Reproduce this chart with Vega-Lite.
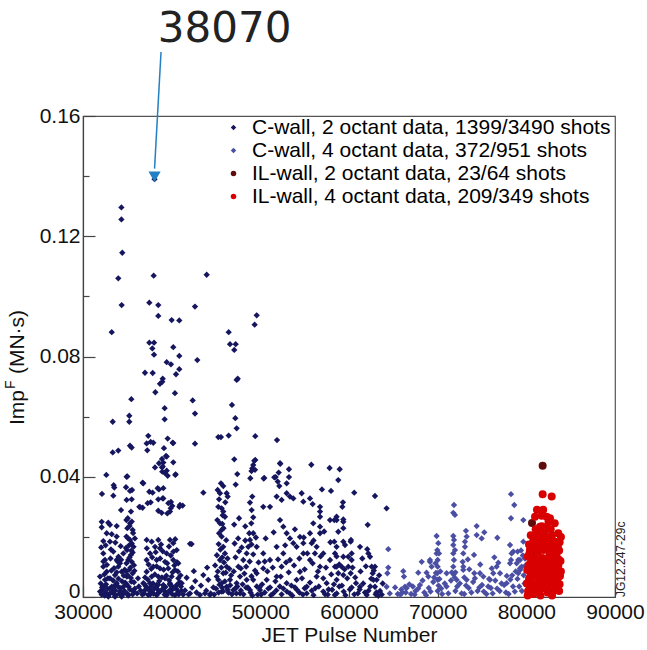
{
  "$schema": "https://vega.github.io/schema/vega-lite/v6.json",
  "width": 532,
  "height": 481,
  "autosize": "none",
  "padding": {"left": 83, "top": 116, "right": 32, "bottom": 53},
  "background": "white",
  "config": {
    "font": "Liberation Sans",
    "view": {"stroke": "#555", "strokeWidth": 1.2},
    "axis": {"grid": false, "domainColor": "#444", "domainWidth": 1.2, "tickColor": "#444", "tickWidth": 1.2, "labelColor": "#111", "titleColor": "#111", "labelFont": "Liberation Sans", "titleFont": "Liberation Sans", "titleFontWeight": "normal"},
    "legend": {"labelFont": "Liberation Sans"}
  },
  "datasets": {
    "cwall2": [
      {"pulse":38070,"imp":0.139},{"pulse":34330,"imp":0.1296},{"pulse":34330,"imp":0.1256},{"pulse":34430,"imp":0.1145},{"pulse":33980,"imp":0.106},{"pulse":37970,"imp":0.1069},{"pulse":43950,"imp":0.1072},
      {"pulse":34360,"imp":0.0971},{"pulse":37480,"imp":0.0979},{"pulse":38490,"imp":0.0971},{"pulse":38490,"imp":0.0935},{"pulse":40000,"imp":0.0921},{"pulse":40860,"imp":0.092},{"pulse":42630,"imp":0.0966},{"pulse":49590,"imp":0.0937},{"pulse":49360,"imp":0.0906},
      {"pulse":33240,"imp":0.0881},{"pulse":46430,"imp":0.0881},{"pulse":37480,"imp":0.0846},{"pulse":38010,"imp":0.0846},{"pulse":37820,"imp":0.0827},{"pulse":38010,"imp":0.0806},{"pulse":40180,"imp":0.0831},{"pulse":40860,"imp":0.0802},{"pulse":39440,"imp":0.0781},{"pulse":39920,"imp":0.0774},{"pulse":40860,"imp":0.0758},{"pulse":42890,"imp":0.0788},{"pulse":36990,"imp":0.0746},{"pulse":37860,"imp":0.0745},{"pulse":40490,"imp":0.0741},
      {"pulse":46580,"imp":0.0841},{"pulse":47220,"imp":0.0841},{"pulse":47060,"imp":0.0822},{"pulse":47450,"imp":0.0726},{"pulse":38990,"imp":0.0726},{"pulse":40370,"imp":0.0678},{"pulse":42370,"imp":0.0654},{"pulse":42630,"imp":0.061},{"pulse":46800,"imp":0.0639},{"pulse":47180,"imp":0.0595},{"pulse":47330,"imp":0.0561},
      {"pulse":45260,"imp":0.0532},{"pulse":45560,"imp":0.0532},{"pulse":46430,"imp":0.0537},{"pulse":49430,"imp":0.0535},{"pulse":51880,"imp":0.0522},{"pulse":42630,"imp":0.051},{"pulse":40180,"imp":0.0512},{"pulse":40180,"imp":0.0448},{"pulse":47060,"imp":0.0458},{"pulse":49430,"imp":0.0456},{"pulse":49200,"imp":0.0439},{"pulse":49000,"imp":0.0419},{"pulse":49400,"imp":0.0423},{"pulse":47400,"imp":0.0409},
      {"pulse":52250,"imp":0.0443},{"pulse":53230,"imp":0.0425},{"pulse":55750,"imp":0.044},{"pulse":57810,"imp":0.0429},{"pulse":58950,"imp":0.0425},{"pulse":52070,"imp":0.0414},{"pulse":51730,"imp":0.0399},{"pulse":53230,"imp":0.0399},{"pulse":50440,"imp":0.0396},{"pulse":48870,"imp":0.0395},{"pulse":40410,"imp":0.0406},
      {"pulse":38940,"imp":0.0716},{"pulse":38680,"imp":0.0709},{"pulse":47330,"imp":0.0722},{"pulse":38160,"imp":0.0681},{"pulse":35450,"imp":0.0658},{"pulse":39210,"imp":0.0628},{"pulse":35220,"imp":0.0603},{"pulse":35220,"imp":0.0583},{"pulse":33350,"imp":0.0583},{"pulse":39210,"imp":0.0591},
      {"pulse":37360,"imp":0.0536},{"pulse":37630,"imp":0.0516},{"pulse":37250,"imp":0.0488},{"pulse":35300,"imp":0.0503},{"pulse":35490,"imp":0.0497},{"pulse":33350,"imp":0.0481},{"pulse":33980,"imp":0.0487},{"pulse":39550,"imp":0.0527},{"pulse":40110,"imp":0.0513},{"pulse":39130,"imp":0.0495},
      {"pulse":38910,"imp":0.0459},{"pulse":39360,"imp":0.0469},{"pulse":38910,"imp":0.0431},{"pulse":39440,"imp":0.042},{"pulse":38120,"imp":0.0431},{"pulse":32630,"imp":0.0406},{"pulse":35000,"imp":0.0401},{"pulse":36720,"imp":0.038},{"pulse":33460,"imp":0.0372},{"pulse":34850,"imp":0.0365},{"pulse":35530,"imp":0.0356},{"pulse":32140,"imp":0.0343},{"pulse":33420,"imp":0.0337},
      {"pulse":37480,"imp":0.035},{"pulse":37850,"imp":0.0347},{"pulse":38570,"imp":0.0358},{"pulse":39060,"imp":0.0362},{"pulse":38980,"imp":0.0328},{"pulse":39920,"imp":0.0316},{"pulse":40070,"imp":0.0303},{"pulse":39810,"imp":0.0284},{"pulse":39510,"imp":0.0278},{"pulse":40860,"imp":0.03},{"pulse":41240,"imp":0.0304},{"pulse":36430,"imp":0.0299},{"pulse":37290,"imp":0.0312},{"pulse":34290,"imp":0.0289},{"pulse":35410,"imp":0.0284},
      {"pulse":43570,"imp":0.0347},{"pulse":42070,"imp":0.0177},{"pulse":42660,"imp":0.0053},{"pulse":41690,"imp":0.0064},
      {"pulse":45560,"imp":0.0378},{"pulse":45820,"imp":0.0369},{"pulse":45190,"imp":0.0356},{"pulse":45450,"imp":0.0345},{"pulse":46200,"imp":0.0345},{"pulse":46320,"imp":0.0334},{"pulse":45260,"imp":0.03},{"pulse":45640,"imp":0.0295},{"pulse":45820,"imp":0.0284},{"pulse":46010,"imp":0.0267},{"pulse":45710,"imp":0.0243},{"pulse":45640,"imp":0.0223},
      {"pulse":47220,"imp":0.0374},{"pulse":49320,"imp":0.0453},{"pulse":49090,"imp":0.0428},{"pulse":51570,"imp":0.0398},{"pulse":51960,"imp":0.0384},{"pulse":52140,"imp":0.0369},{"pulse":52220,"imp":0.0445},{"pulse":52970,"imp":0.0378},
      {"pulse":49090,"imp":0.0334},{"pulse":48830,"imp":0.0314},{"pulse":49020,"imp":0.0289},{"pulse":49200,"imp":0.0265},{"pulse":48980,"imp":0.0245},{"pulse":48750,"imp":0.0212},{"pulse":50380,"imp":0.0394},{"pulse":50330,"imp":0.03},{"pulse":51090,"imp":0.03},{"pulse":51840,"imp":0.0334},{"pulse":52400,"imp":0.0323},{"pulse":52970,"imp":0.0345},{"pulse":53340,"imp":0.0334},{"pulse":53720,"imp":0.0328},
      {"pulse":54660,"imp":0.0345},{"pulse":54850,"imp":0.0317},{"pulse":55600,"imp":0.0328},{"pulse":55900,"imp":0.0309},{"pulse":58790,"imp":0.0389},{"pulse":56950,"imp":0.0358},{"pulse":57970,"imp":0.0353},{"pulse":56730,"imp":0.03},{"pulse":56730,"imp":0.0284},{"pulse":56730,"imp":0.0267},{"pulse":58600,"imp":0.0267},
      {"pulse":52220,"imp":0.0256},{"pulse":52590,"imp":0.0234},{"pulse":52970,"imp":0.0212},{"pulse":53340,"imp":0.0195},{"pulse":53720,"imp":0.0179},{"pulse":54470,"imp":0.02},{"pulse":54850,"imp":0.0179},{"pulse":55600,"imp":0.0212},{"pulse":55790,"imp":0.0179},{"pulse":56160,"imp":0.0145},
      {"pulse":60590,"imp":0.0347},{"pulse":62930,"imp":0.0336},{"pulse":64240,"imp":0.0295},{"pulse":62110,"imp":0.024},{"pulse":59250,"imp":0.03},{"pulse":59320,"imp":0.0315},{"pulse":59360,"imp":0.025},{"pulse":57860,"imp":0.0256},{"pulse":58610,"imp":0.0256},{"pulse":58790,"imp":0.0217},{"pulse":56730,"imp":0.0234},{"pulse":56730,"imp":0.0212},{"pulse":55970,"imp":0.0245},
      {"pulse":60220,"imp":0.019},{"pulse":61240,"imp":0.0167},{"pulse":60300,"imp":0.0145},{"pulse":62060,"imp":0.0159},{"pulse":62370,"imp":0.0134},{"pulse":62930,"imp":0.0101},{"pulse":63120,"imp":0.0057},
      {"pulse":58340,"imp":0.0256},{"pulse":59360,"imp":0.0258},{"pulse":59360,"imp":0.0229},{"pulse":58340,"imp":0.0184},{"pulse":59360,"imp":0.0184},{"pulse":60190,"imp":0.0184},{"pulse":58600,"imp":0.0167},{"pulse":59550,"imp":0.0173},{"pulse":58420,"imp":0.0145},{"pulse":59360,"imp":0.0134},{"pulse":59920,"imp":0.0134},{"pulse":60300,"imp":0.0123},{"pulse":59920,"imp":0.0101},{"pulse":59170,"imp":0.0101},{"pulse":58420,"imp":0.0101},{"pulse":58790,"imp":0.0079},{"pulse":59360,"imp":0.0073},{"pulse":60190,"imp":0.0079},
      {"pulse":62180,"imp":0.0145},{"pulse":62560,"imp":0.0101},{"pulse":62670,"imp":0.0079},{"pulse":62750,"imp":0.0057},{"pulse":62930,"imp":0.0034},{"pulse":61240,"imp":0.0034},{"pulse":60790,"imp":0.0046},{"pulse":63500,"imp":0.002},{"pulse":63800,"imp":0.0045},
      {"pulse":37180,"imp":0.0511},{"pulse":37930,"imp":0.0513},{"pulse":39440,"imp":0.0467},{"pulse":39060,"imp":0.0447},{"pulse":38990,"imp":0.0434},{"pulse":34920,"imp":0.04},{"pulse":38570,"imp":0.0445},{"pulse":38940,"imp":0.0417},{"pulse":39250,"imp":0.0412},{"pulse":39550,"imp":0.0403},{"pulse":40450,"imp":0.0408},{"pulse":36800,"imp":0.0378},
      {"pulse":33530,"imp":0.0364},{"pulse":35300,"imp":0.0353},{"pulse":34920,"imp":0.0323},{"pulse":35490,"imp":0.0325},{"pulse":38420,"imp":0.0362},{"pulse":38490,"imp":0.0325},{"pulse":39060,"imp":0.0328},{"pulse":37630,"imp":0.0315},{"pulse":36350,"imp":0.03},{"pulse":38490,"imp":0.0287},{"pulse":38870,"imp":0.028},{"pulse":39620,"imp":0.0312},{"pulse":39890,"imp":0.0295},{"pulse":40940,"imp":0.0306},{"pulse":42250,"imp":0.0176},{"pulse":36720,"imp":0.0297},
      {"pulse":32110,"imp":0.025},{"pulse":32850,"imp":0.0247},{"pulse":32110,"imp":0.0232},{"pulse":33040,"imp":0.024},{"pulse":33800,"imp":0.0236},{"pulse":32670,"imp":0.0212},{"pulse":33240,"imp":0.0209},{"pulse":33800,"imp":0.0201},{"pulse":33040,"imp":0.0184},{"pulse":32290,"imp":0.0186},
      {"pulse":34890,"imp":0.0256},{"pulse":35300,"imp":0.0245},{"pulse":35000,"imp":0.0229},{"pulse":35600,"imp":0.0223},{"pulse":34900,"imp":0.0201},{"pulse":35300,"imp":0.019},{"pulse":35700,"imp":0.0167},{"pulse":34960,"imp":0.0156},{"pulse":35400,"imp":0.014},{"pulse":35100,"imp":0.0123},{"pulse":35750,"imp":0.0106},{"pulse":35200,"imp":0.009},{"pulse":35600,"imp":0.0079},{"pulse":34950,"imp":0.0068},{"pulse":35450,"imp":0.0051},{"pulse":35150,"imp":0.0034},{"pulse":35700,"imp":0.0018},{"pulse":34980,"imp":0.0012},
      {"pulse":37180,"imp":0.019},{"pulse":37750,"imp":0.0184},{"pulse":38490,"imp":0.019},{"pulse":38120,"imp":0.0167},{"pulse":38680,"imp":0.0162},{"pulse":39810,"imp":0.019},{"pulse":40180,"imp":0.0179},{"pulse":40570,"imp":0.0156},{"pulse":39440,"imp":0.0145},{"pulse":37560,"imp":0.0145},{"pulse":37180,"imp":0.0123},{"pulse":38310,"imp":0.0123},{"pulse":39250,"imp":0.0117},{"pulse":40180,"imp":0.0123},
      {"pulse":40750,"imp":0.0112},{"pulse":37930,"imp":0.0101},{"pulse":38680,"imp":0.0095},{"pulse":39620,"imp":0.0095},{"pulse":40370,"imp":0.009},{"pulse":37180,"imp":0.0084},{"pulse":37750,"imp":0.0068},{"pulse":38490,"imp":0.0068},{"pulse":39250,"imp":0.0062},{"pulse":40000,"imp":0.0068},{"pulse":40750,"imp":0.0062},{"pulse":36800,"imp":0.0046},{"pulse":37560,"imp":0.0046},{"pulse":38310,"imp":0.004},
      {"pulse":39060,"imp":0.004},{"pulse":39810,"imp":0.0046},{"pulse":40570,"imp":0.004},{"pulse":41130,"imp":0.0046},{"pulse":36990,"imp":0.0023},{"pulse":37750,"imp":0.0018},{"pulse":38490,"imp":0.0023},{"pulse":39250,"imp":0.0018},{"pulse":40000,"imp":0.0023},{"pulse":40750,"imp":0.0018},{"pulse":37360,"imp":0.0007},{"pulse":38310,"imp":0.0006},{"pulse":39440,"imp":0.0006},{"pulse":40370,"imp":0.0006},
      {"pulse":32290,"imp":0.0101},{"pulse":32670,"imp":0.0084},{"pulse":31920,"imp":0.0068},{"pulse":32480,"imp":0.0057},{"pulse":33040,"imp":0.0062},{"pulse":33610,"imp":0.0073},{"pulse":33980,"imp":0.0101},{"pulse":34360,"imp":0.0084},{"pulse":33800,"imp":0.0046},{"pulse":33240,"imp":0.0034},{"pulse":32290,"imp":0.0034},{"pulse":31920,"imp":0.0018},{"pulse":32670,"imp":0.0012},{"pulse":33420,"imp":0.0012},{"pulse":34170,"imp":0.0018},{"pulse":34550,"imp":0.0034},{"pulse":32850,"imp":0.0001},{"pulse":33610,"imp":0.0001},{"pulse":34360,"imp":0.0001},
      {"pulse":32290,"imp":0.0145},{"pulse":33420,"imp":0.0151},{"pulse":34000,"imp":0.0134},{"pulse":33800,"imp":0.0123},{"pulse":32480,"imp":0.0123},{"pulse":34170,"imp":0.0112},{"pulse":34550,"imp":0.0145},
      {"pulse":43570,"imp":0.0073},{"pulse":44130,"imp":0.0057},{"pulse":45080,"imp":0.0068},{"pulse":45640,"imp":0.0046},{"pulse":43760,"imp":0.0012},{"pulse":42070,"imp":0.0012},{"pulse":43190,"imp":0.0007},{"pulse":44320,"imp":0.0007},
      {"pulse":45450,"imp":0.0245},{"pulse":45640,"imp":0.0201},{"pulse":45820,"imp":0.0167},{"pulse":46010,"imp":0.0145},{"pulse":45450,"imp":0.0123},{"pulse":46200,"imp":0.0101},{"pulse":45820,"imp":0.0079},{"pulse":45260,"imp":0.0057},{"pulse":46580,"imp":0.0057},{"pulse":46200,"imp":0.0034},{"pulse":45640,"imp":0.0018},{"pulse":46950,"imp":0.0023},
      {"pulse":47330,"imp":0.0046},{"pulse":47710,"imp":0.0068},{"pulse":47520,"imp":0.0101},{"pulse":48080,"imp":0.0123},{"pulse":48460,"imp":0.0145},{"pulse":48640,"imp":0.0167},{"pulse":48830,"imp":0.019},{"pulse":49200,"imp":0.0212},{"pulse":48460,"imp":0.0057},{"pulse":48830,"imp":0.0023},{"pulse":47710,"imp":0.0012},{"pulse":49200,"imp":0.0057},
      {"pulse":49590,"imp":0.0167},{"pulse":50330,"imp":0.0145},{"pulse":51090,"imp":0.0123},{"pulse":51840,"imp":0.0167},{"pulse":52590,"imp":0.0145},{"pulse":53340,"imp":0.0123},{"pulse":54090,"imp":0.0167},{"pulse":54850,"imp":0.0145},{"pulse":55600,"imp":0.0123},{"pulse":56350,"imp":0.0167},{"pulse":57100,"imp":0.0145},{"pulse":57860,"imp":0.0123},{"pulse":58610,"imp":0.0101},
      {"pulse":49590,"imp":0.0079},{"pulse":50720,"imp":0.0057},{"pulse":51840,"imp":0.0068},{"pulse":52970,"imp":0.0046},{"pulse":54090,"imp":0.0057},{"pulse":55230,"imp":0.0034},{"pulse":56350,"imp":0.0068},{"pulse":57480,"imp":0.0046},{"pulse":58610,"imp":0.0057},{"pulse":49960,"imp":0.0023},{"pulse":51460,"imp":0.0012},{"pulse":53340,"imp":0.0012},{"pulse":55230,"imp":0.0012},{"pulse":57100,"imp":0.0018},{"pulse":58610,"imp":0.0012},
      {"pulse":52400,"imp":0.0101},{"pulse":54470,"imp":0.0084},{"pulse":56730,"imp":0.0101},{"pulse":50330,"imp":0.0095},
      {"pulse":32000,"imp":0.0045},{"pulse":32200,"imp":0.0025},{"pulse":32400,"imp":0.0075},{"pulse":32600,"imp":0.0042},{"pulse":32800,"imp":0.0062},{"pulse":33000,"imp":0.0028},{"pulse":33200,"imp":0.0088},{"pulse":33400,"imp":0.0055},{"pulse":33600,"imp":0.0038},{"pulse":33800,"imp":0.0082},{"pulse":34000,"imp":0.0061},{"pulse":34200,"imp":0.0029},{"pulse":34400,"imp":0.0052},{"pulse":34600,"imp":0.0071},
      {"pulse":32100,"imp":0.0008},{"pulse":32500,"imp":0.0015},{"pulse":32900,"imp":0.0009},{"pulse":33300,"imp":0.0017},{"pulse":33700,"imp":0.0006},{"pulse":34100,"imp":0.0011},{"pulse":34500,"imp":0.0009},{"pulse":32300,"imp":0.0118},{"pulse":32700,"imp":0.0107},{"pulse":33100,"imp":0.0128},{"pulse":33500,"imp":0.0096},{"pulse":33900,"imp":0.0118},{"pulse":34300,"imp":0.0124},
      {"pulse":32050,"imp":0.0165},{"pulse":32550,"imp":0.0172},{"pulse":33150,"imp":0.0158},{"pulse":33650,"imp":0.0181},{"pulse":34250,"imp":0.0169},{"pulse":34700,"imp":0.0091},{"pulse":34750,"imp":0.0048},
      {"pulse":35050,"imp":0.0262},{"pulse":35500,"imp":0.0251},{"pulse":35250,"imp":0.0236},{"pulse":35650,"imp":0.0213},{"pulse":35050,"imp":0.0196},{"pulse":35500,"imp":0.0178},{"pulse":35200,"imp":0.0172},{"pulse":34850,"imp":0.0163},{"pulse":35600,"imp":0.0148},{"pulse":35250,"imp":0.0131},{"pulse":34900,"imp":0.0112},{"pulse":35500,"imp":0.0117},{"pulse":35350,"imp":0.0098},
      {"pulse":34850,"imp":0.0085},{"pulse":35800,"imp":0.0087},{"pulse":35050,"imp":0.0072},{"pulse":35400,"imp":0.0063},{"pulse":35750,"imp":0.0049},{"pulse":34900,"imp":0.0043},{"pulse":35300,"imp":0.0025},{"pulse":35600,"imp":0.0009},{"pulse":35100,"imp":0.0005},{"pulse":35850,"imp":0.0028},{"pulse":35450,"imp":0.0154},{"pulse":35850,"imp":0.0195},
      {"pulse":36100,"imp":0.0012},{"pulse":36300,"imp":0.0035},{"pulse":36500,"imp":0.0021},{"pulse":36700,"imp":0.0008},{"pulse":36200,"imp":0.0062},
      {"pulse":36900,"imp":0.0012},{"pulse":37100,"imp":0.0035},{"pulse":37300,"imp":0.0058},{"pulse":37500,"imp":0.0022},{"pulse":37700,"imp":0.0094},{"pulse":37900,"imp":0.0045},{"pulse":38100,"imp":0.0075},{"pulse":38300,"imp":0.0102},{"pulse":38500,"imp":0.0041},{"pulse":38700,"imp":0.0128},{"pulse":38900,"imp":0.0065},{"pulse":39100,"imp":0.0091},
      {"pulse":39300,"imp":0.0033},{"pulse":39500,"imp":0.0112},{"pulse":39700,"imp":0.0056},{"pulse":39900,"imp":0.0138},{"pulse":40100,"imp":0.0082},{"pulse":40300,"imp":0.0105},{"pulse":40500,"imp":0.0028},{"pulse":40700,"imp":0.0085},{"pulse":40900,"imp":0.0049},{"pulse":41100,"imp":0.0021},{"pulse":41300,"imp":0.0008},
      {"pulse":37000,"imp":0.0065},{"pulse":37400,"imp":0.0108},{"pulse":37800,"imp":0.0132},{"pulse":38200,"imp":0.0149},{"pulse":38600,"imp":0.0053},{"pulse":39000,"imp":0.0152},{"pulse":39400,"imp":0.0071},{"pulse":39800,"imp":0.0041},{"pulse":40200,"imp":0.0151},{"pulse":40600,"imp":0.0116},{"pulse":41000,"imp":0.0072},
      {"pulse":37200,"imp":0.0162},{"pulse":38800,"imp":0.0175},{"pulse":39700,"imp":0.0168},{"pulse":40400,"imp":0.0192},{"pulse":37600,"imp":0.0009},{"pulse":38400,"imp":0.0012},{"pulse":39200,"imp":0.0008},{"pulse":40000,"imp":0.0011},{"pulse":40800,"imp":0.0009},{"pulse":38050,"imp":0.0028},{"pulse":38950,"imp":0.0026},{"pulse":39850,"imp":0.0024},
      {"pulse":41500,"imp":0.0022},{"pulse":41900,"imp":0.0009},{"pulse":42300,"imp":0.0031},{"pulse":42800,"imp":0.0015},{"pulse":43300,"imp":0.0038},{"pulse":43900,"imp":0.0021},{"pulse":44400,"imp":0.0012},{"pulse":44700,"imp":0.0032},{"pulse":42500,"imp":0.0086},{"pulse":44000,"imp":0.0098},
      {"pulse":44900,"imp":0.0105},{"pulse":45100,"imp":0.0139},{"pulse":45300,"imp":0.0176},{"pulse":45500,"imp":0.0158},{"pulse":45700,"imp":0.0132},{"pulse":45900,"imp":0.0115},{"pulse":46100,"imp":0.0081},{"pulse":46300,"imp":0.0128},{"pulse":46500,"imp":0.0094},{"pulse":46700,"imp":0.0072},{"pulse":45000,"imp":0.0028},{"pulse":45200,"imp":0.0085},
      {"pulse":45400,"imp":0.0041},{"pulse":45600,"imp":0.0098},{"pulse":45800,"imp":0.0019},{"pulse":46000,"imp":0.0052},{"pulse":46400,"imp":0.0015},{"pulse":46600,"imp":0.0039},{"pulse":45350,"imp":0.0212},{"pulse":45850,"imp":0.0229},{"pulse":46150,"imp":0.0189},{"pulse":45150,"imp":0.0256},{"pulse":45750,"imp":0.0272},{"pulse":46050,"imp":0.0315},{"pulse":45350,"imp":0.0325},
      {"pulse":47000,"imp":0.0085},{"pulse":47200,"imp":0.0132},{"pulse":47400,"imp":0.0035},{"pulse":47600,"imp":0.0152},{"pulse":47800,"imp":0.0095},{"pulse":48000,"imp":0.0042},{"pulse":48200,"imp":0.0078},{"pulse":48400,"imp":0.0101},{"pulse":48600,"imp":0.0032},{"pulse":48800,"imp":0.0118},{"pulse":49000,"imp":0.0069},{"pulse":49200,"imp":0.0142},
      {"pulse":49400,"imp":0.0088},{"pulse":49600,"imp":0.0035},{"pulse":49800,"imp":0.0115},{"pulse":47100,"imp":0.0178},{"pulse":47500,"imp":0.0195},{"pulse":47900,"imp":0.0165},{"pulse":48300,"imp":0.0188},{"pulse":49000,"imp":0.0175},{"pulse":49500,"imp":0.0198},{"pulse":47300,"imp":0.0012},{"pulse":48100,"imp":0.0009},{"pulse":48900,"imp":0.0015},
      {"pulse":49700,"imp":0.0008},{"pulse":47050,"imp":0.0241},{"pulse":47600,"imp":0.0262},{"pulse":48300,"imp":0.0235},
      {"pulse":50200,"imp":0.0042},{"pulse":50500,"imp":0.0118},{"pulse":50800,"imp":0.0085},{"pulse":51100,"imp":0.0032},{"pulse":51400,"imp":0.0098},{"pulse":51700,"imp":0.0052},{"pulse":52000,"imp":0.0125},{"pulse":52300,"imp":0.0068},{"pulse":52600,"imp":0.0028},{"pulse":52900,"imp":0.0115},{"pulse":53200,"imp":0.0082},{"pulse":53500,"imp":0.0038},
      {"pulse":53800,"imp":0.0105},{"pulse":54100,"imp":0.0025},{"pulse":54400,"imp":0.0128},{"pulse":54700,"imp":0.0062},{"pulse":55000,"imp":0.0092},{"pulse":55300,"imp":0.0145},{"pulse":55600,"imp":0.0048},{"pulse":55900,"imp":0.0112},{"pulse":56200,"imp":0.0029},{"pulse":56500,"imp":0.0085},{"pulse":56800,"imp":0.0135},{"pulse":57100,"imp":0.0062},
      {"pulse":57400,"imp":0.0098},{"pulse":57700,"imp":0.0025},{"pulse":58000,"imp":0.0075},{"pulse":58300,"imp":0.0042},{"pulse":58600,"imp":0.0135},{"pulse":58900,"imp":0.0108},{"pulse":59200,"imp":0.0038},{"pulse":59500,"imp":0.0092},{"pulse":59800,"imp":0.0062},{"pulse":60100,"imp":0.0025},{"pulse":60400,"imp":0.0098},{"pulse":60700,"imp":0.0065},
      {"pulse":61000,"imp":0.0012},{"pulse":61300,"imp":0.0085},{"pulse":61600,"imp":0.0045},{"pulse":61900,"imp":0.0102},{"pulse":62200,"imp":0.0021},{"pulse":62500,"imp":0.0061},{"pulse":62800,"imp":0.0088},{"pulse":63100,"imp":0.0015},{"pulse":63400,"imp":0.0072},{"pulse":63700,"imp":0.0008},
      {"pulse":50600,"imp":0.0195},{"pulse":51500,"imp":0.0215},{"pulse":52800,"imp":0.0172},{"pulse":53900,"imp":0.0225},{"pulse":54900,"imp":0.0198},{"pulse":56000,"imp":0.0188},{"pulse":57200,"imp":0.0218},{"pulse":57900,"imp":0.0182},{"pulse":61500,"imp":0.0128},
      {"pulse":50100,"imp":0.0008},{"pulse":51200,"imp":0.0006},{"pulse":52400,"imp":0.0009},{"pulse":53600,"imp":0.0005},{"pulse":54800,"imp":0.0008},{"pulse":56000,"imp":0.0006},{"pulse":57300,"imp":0.0009},{"pulse":58400,"imp":0.0007},{"pulse":59600,"imp":0.0006},{"pulse":60600,"imp":0.0009},{"pulse":62000,"imp":0.0007},{"pulse":63300,"imp":0.0004},
      {"pulse":32150,"imp":0.0032},{"pulse":32450,"imp":0.0005},{"pulse":32750,"imp":0.0028},{"pulse":33050,"imp":0.0011},{"pulse":33350,"imp":0.0031},{"pulse":33650,"imp":0.0022},{"pulse":33950,"imp":0.0035},{"pulse":34250,"imp":0.0008},{"pulse":34650,"imp":0.0021},{"pulse":36950,"imp":0.0042},{"pulse":37250,"imp":0.0028},{"pulse":37650,"imp":0.0035},
      {"pulse":37950,"imp":0.0011},{"pulse":38250,"imp":0.0032},{"pulse":38650,"imp":0.0017},{"pulse":39150,"imp":0.0035},{"pulse":39550,"imp":0.0015},{"pulse":39950,"imp":0.0038},{"pulse":40250,"imp":0.0029},{"pulse":40650,"imp":0.0012},{"pulse":41050,"imp":0.0035},{"pulse":44800,"imp":0.0008},{"pulse":45300,"imp":0.0015},{"pulse":45700,"imp":0.0031},
      {"pulse":46300,"imp":0.0025},{"pulse":46800,"imp":0.0009},{"pulse":47200,"imp":0.0029},{"pulse":47800,"imp":0.0022},{"pulse":48400,"imp":0.0031},{"pulse":49100,"imp":0.0005},{"pulse":49900,"imp":0.0032},{"pulse":50500,"imp":0.0015},{"pulse":50900,"imp":0.0028},{"pulse":51800,"imp":0.0022},{"pulse":52200,"imp":0.0035},{"pulse":53000,"imp":0.0018},
      {"pulse":53900,"imp":0.0032},{"pulse":54400,"imp":0.0015},{"pulse":55000,"imp":0.0029},{"pulse":55800,"imp":0.0021},{"pulse":56600,"imp":0.0035},{"pulse":57600,"imp":0.0008},{"pulse":58100,"imp":0.0024},{"pulse":58900,"imp":0.0035},{"pulse":59400,"imp":0.0018},{"pulse":60300,"imp":0.0032},{"pulse":61200,"imp":0.0025},{"pulse":61800,"imp":0.0015},
      {"pulse":62400,"imp":0.0035},{"pulse":63000,"imp":0.0009}
    ],
    "cwall4": [
      {"pulse":64430,"imp":0.0159},{"pulse":64430,"imp":0.0098},{"pulse":64330,"imp":0.0079},{"pulse":64240,"imp":0.0034},{"pulse":66120,"imp":0.0086},{"pulse":66200,"imp":0.0068},{"pulse":66310,"imp":0.0034},
      {"pulse":68200,"imp":0.0117},{"pulse":67810,"imp":0.0081},{"pulse":68750,"imp":0.0081},{"pulse":69130,"imp":0.0117},{"pulse":68950,"imp":0.0068},
      {"pulse":69880,"imp":0.0203},{"pulse":70070,"imp":0.0179},{"pulse":69960,"imp":0.0156},{"pulse":69880,"imp":0.0145},{"pulse":69130,"imp":0.0123},{"pulse":69320,"imp":0.0101},{"pulse":70000,"imp":0.0123},{"pulse":70000,"imp":0.0101},{"pulse":69950,"imp":0.0079},{"pulse":70000,"imp":0.0057},
      {"pulse":71840,"imp":0.0306},{"pulse":71760,"imp":0.028},{"pulse":71950,"imp":0.0273},{"pulse":71760,"imp":0.0203},{"pulse":71840,"imp":0.019},{"pulse":71760,"imp":0.0173},{"pulse":71950,"imp":0.0156},{"pulse":71760,"imp":0.0145},{"pulse":71840,"imp":0.0123},{"pulse":71760,"imp":0.0101},
      {"pulse":72890,"imp":0.0145},{"pulse":72820,"imp":0.0117},{"pulse":72890,"imp":0.0101},{"pulse":73190,"imp":0.022},{"pulse":73270,"imp":0.0201},{"pulse":73080,"imp":0.0184},{"pulse":73080,"imp":0.0167},{"pulse":72890,"imp":0.009},
      {"pulse":74400,"imp":0.0236},{"pulse":74400,"imp":0.0206},{"pulse":74960,"imp":0.0195},{"pulse":75260,"imp":0.0215},{"pulse":74100,"imp":0.014},{"pulse":73570,"imp":0.0092},{"pulse":74130,"imp":0.0079},
      {"pulse":76730,"imp":0.0197},{"pulse":76390,"imp":0.0132},{"pulse":76650,"imp":0.0101},
      {"pulse":78270,"imp":0.0342},{"pulse":78640,"imp":0.0306},{"pulse":78270,"imp":0.0262},{"pulse":79660,"imp":0.0256},{"pulse":79660,"imp":0.0184},{"pulse":78160,"imp":0.0173},{"pulse":78530,"imp":0.0151},{"pulse":79020,"imp":0.0151},{"pulse":79090,"imp":0.0123},{"pulse":78160,"imp":0.0112},{"pulse":78340,"imp":0.0145},{"pulse":78910,"imp":0.0112},{"pulse":79280,"imp":0.0095},{"pulse":79280,"imp":0.0123},{"pulse":79470,"imp":0.0101},{"pulse":79090,"imp":0.0079},{"pulse":78270,"imp":0.0123},
      {"pulse":76840,"imp":0.0114},{"pulse":76270,"imp":0.0079},{"pulse":74770,"imp":0.0079},{"pulse":75150,"imp":0.0068},{"pulse":71010,"imp":0.0079},{"pulse":72140,"imp":0.0057},{"pulse":73270,"imp":0.0057},{"pulse":75900,"imp":0.0057},{"pulse":77030,"imp":0.0079},{"pulse":77780,"imp":0.0046},
      {"pulse":65500,"imp":0.001},{"pulse":66000,"imp":0.0015},{"pulse":66500,"imp":0.003},{"pulse":67000,"imp":0.001},{"pulse":67500,"imp":0.002},{"pulse":68000,"imp":0.004},{"pulse":68500,"imp":0.0015},{"pulse":69000,"imp":0.003},{"pulse":69500,"imp":0.005},{"pulse":70000,"imp":0.002},
      {"pulse":70200,"imp":0.006},{"pulse":70500,"imp":0.001},{"pulse":71000,"imp":0.0035},{"pulse":71500,"imp":0.0055},{"pulse":72000,"imp":0.002},{"pulse":72500,"imp":0.0045},{"pulse":73000,"imp":0.001},{"pulse":73500,"imp":0.003},{"pulse":74000,"imp":0.005},{"pulse":74500,"imp":0.002},
      {"pulse":75000,"imp":0.004},{"pulse":75500,"imp":0.001},{"pulse":76000,"imp":0.003},{"pulse":76500,"imp":0.0055},{"pulse":77000,"imp":0.002},{"pulse":77500,"imp":0.004},{"pulse":78000,"imp":0.001},{"pulse":78500,"imp":0.0035},{"pulse":79000,"imp":0.006},{"pulse":79500,"imp":0.002},
      {"pulse":79800,"imp":0.0045},{"pulse":69800,"imp":0.008},{"pulse":70300,"imp":0.0085},{"pulse":71800,"imp":0.0075},{"pulse":73000,"imp":0.0065},{"pulse":75800,"imp":0.006},{"pulse":77800,"imp":0.007},{"pulse":79300,"imp":0.009},{"pulse":65900,"imp":0.0025},{"pulse":67200,"imp":0.0035},
      {"pulse":64600,"imp":0.0012},{"pulse":65200,"imp":0.0032},{"pulse":65800,"imp":0.0008},{"pulse":66400,"imp":0.0015},{"pulse":66800,"imp":0.0042},{"pulse":67400,"imp":0.0008},{"pulse":67800,"imp":0.0028},{"pulse":68300,"imp":0.0055},{"pulse":68700,"imp":0.0006},{"pulse":69200,"imp":0.0018},{"pulse":69600,"imp":0.0065},{"pulse":70100,"imp":0.0038},
      {"pulse":70400,"imp":0.0028},{"pulse":70800,"imp":0.0045},{"pulse":71200,"imp":0.0012},{"pulse":71600,"imp":0.0082},{"pulse":72200,"imp":0.0035},{"pulse":72700,"imp":0.0012},{"pulse":73200,"imp":0.0038},{"pulse":73800,"imp":0.0015},{"pulse":74200,"imp":0.0062},{"pulse":74700,"imp":0.0032},{"pulse":75200,"imp":0.0018},{"pulse":75700,"imp":0.0035},
      {"pulse":76200,"imp":0.0012},{"pulse":76700,"imp":0.0028},{"pulse":77200,"imp":0.0045},{"pulse":77700,"imp":0.0015},{"pulse":78200,"imp":0.0058},{"pulse":78700,"imp":0.0018},{"pulse":79200,"imp":0.0035},{"pulse":79700,"imp":0.0072},{"pulse":79900,"imp":0.0105},{"pulse":79600,"imp":0.0138},{"pulse":79400,"imp":0.0155},{"pulse":79850,"imp":0.0128},
      {"pulse":78800,"imp":0.0085},{"pulse":78400,"imp":0.0072},{"pulse":72000,"imp":0.0082},{"pulse":71900,"imp":0.0065},{"pulse":70150,"imp":0.0145},{"pulse":69750,"imp":0.0112},{"pulse":73400,"imp":0.0125},{"pulse":74800,"imp":0.0108},{"pulse":76100,"imp":0.0095}
    ],
    "ilwall2": [
      {"pulse":81840,"imp":0.0437},{"pulse":80640,"imp":0.0246},{"pulse":80500,"imp":0.008},{"pulse":81500,"imp":0.004},{"pulse":82500,"imp":0.012},{"pulse":83000,"imp":0.002},{"pulse":81000,"imp":0.015},{"pulse":82000,"imp":0.006}
    ],
    "ilwall4": [
      {"pulse":81840,"imp":0.0342},{"pulse":82860,"imp":0.0334},{"pulse":80980,"imp":0.0267},{"pulse":81730,"imp":0.027},{"pulse":82290,"imp":0.0267},{"pulse":82670,"imp":0.0262},
      {"pulse":81540,"imp":0.0234},{"pulse":81920,"imp":0.0217},{"pulse":81170,"imp":0.0212},{"pulse":81540,"imp":0.019},{"pulse":80790,"imp":0.019},{"pulse":83600,"imp":0.0212},{"pulse":83230,"imp":0.0184},{"pulse":82290,"imp":0.02},
      {"pulse":82670,"imp":0.0167},{"pulse":81920,"imp":0.0156},{"pulse":83040,"imp":0.0151},{"pulse":81170,"imp":0.0156},{"pulse":80410,"imp":0.0156},
      {"pulse":80200,"imp":0.002},{"pulse":80300,"imp":0.006},{"pulse":80400,"imp":0.011},{"pulse":80500,"imp":0.004},{"pulse":80600,"imp":0.009},{"pulse":80700,"imp":0.013},{"pulse":80800,"imp":0.001},{"pulse":80900,"imp":0.007},{"pulse":81000,"imp":0.012},{"pulse":81100,"imp":0.003},
      {"pulse":81200,"imp":0.0085},{"pulse":81300,"imp":0.015},{"pulse":81400,"imp":0.005},{"pulse":81500,"imp":0.01},{"pulse":81600,"imp":0.0005},{"pulse":81700,"imp":0.0065},{"pulse":81800,"imp":0.013},{"pulse":81900,"imp":0.003},{"pulse":82000,"imp":0.009},{"pulse":82100,"imp":0.016},
      {"pulse":82200,"imp":0.005},{"pulse":82300,"imp":0.011},{"pulse":82400,"imp":0.0015},{"pulse":82500,"imp":0.0075},{"pulse":82600,"imp":0.014},{"pulse":82700,"imp":0.004},{"pulse":82800,"imp":0.01},{"pulse":82900,"imp":0.0005},{"pulse":83000,"imp":0.006},{"pulse":83100,"imp":0.012},
      {"pulse":83200,"imp":0.003},{"pulse":83300,"imp":0.0085},{"pulse":83400,"imp":0.014},{"pulse":83500,"imp":0.005},{"pulse":83600,"imp":0.0105},{"pulse":83700,"imp":0.002},{"pulse":83800,"imp":0.007},{"pulse":83850,"imp":0.012},
      {"pulse":80350,"imp":0.0145},{"pulse":80950,"imp":0.0165},{"pulse":81650,"imp":0.018},{"pulse":82250,"imp":0.0175},{"pulse":82950,"imp":0.0165},{"pulse":83550,"imp":0.017},{"pulse":81350,"imp":0.0195},{"pulse":82050,"imp":0.021},{"pulse":82750,"imp":0.0225},{"pulse":81050,"imp":0.0225},
      {"pulse":83200,"imp":0.0245},{"pulse":81200,"imp":0.029},{"pulse":81900,"imp":0.029},{"pulse":82500,"imp":0.025},{"pulse":80500,"imp":0.0205},{"pulse":83900,"imp":0.02},{"pulse":83700,"imp":0.0155},{"pulse":81750,"imp":0.0235},{"pulse":80100,"imp":0.009},{"pulse":80150,"imp":0.0135},
      {"pulse":80050,"imp":0.0045},{"pulse":80150,"imp":0.0005},{"pulse":80250,"imp":0.0105},{"pulse":80450,"imp":0.0068},{"pulse":80550,"imp":0.0125},{"pulse":80650,"imp":0.0025},{"pulse":80750,"imp":0.0085},{"pulse":80850,"imp":0.0105},{"pulse":80950,"imp":0.0045},{"pulse":81050,"imp":0.0072},{"pulse":81150,"imp":0.0108},{"pulse":81250,"imp":0.0018},
      {"pulse":81350,"imp":0.0125},{"pulse":81450,"imp":0.0082},{"pulse":81550,"imp":0.0058},{"pulse":81650,"imp":0.0112},{"pulse":81750,"imp":0.0028},{"pulse":81850,"imp":0.0088},{"pulse":81950,"imp":0.0115},{"pulse":82050,"imp":0.0042},{"pulse":82150,"imp":0.0125},{"pulse":82250,"imp":0.0078},{"pulse":82350,"imp":0.0025},{"pulse":82450,"imp":0.0105},
      {"pulse":82550,"imp":0.0052},{"pulse":82650,"imp":0.0088},{"pulse":82750,"imp":0.0122},{"pulse":82850,"imp":0.0035},{"pulse":82950,"imp":0.0098},{"pulse":83050,"imp":0.0078},{"pulse":83150,"imp":0.0045},{"pulse":83250,"imp":0.0118},{"pulse":83350,"imp":0.0025},{"pulse":83450,"imp":0.0092},{"pulse":83550,"imp":0.0065},{"pulse":83650,"imp":0.0125},
      {"pulse":83750,"imp":0.0042},{"pulse":83900,"imp":0.0085},{"pulse":80300,"imp":0.0175},{"pulse":80700,"imp":0.0165},{"pulse":81100,"imp":0.0185},{"pulse":81450,"imp":0.0158},{"pulse":81800,"imp":0.0195},{"pulse":82150,"imp":0.0188},{"pulse":82400,"imp":0.0162},{"pulse":82850,"imp":0.0192},{"pulse":83300,"imp":0.0158},{"pulse":83750,"imp":0.0182},
      {"pulse":81600,"imp":0.0215},{"pulse":82300,"imp":0.0232},{"pulse":82900,"imp":0.0205}
    ],
    "pointer": [{"pulse": 38070, "label": "38070"}],
    "ytitle": [{"part": "Imp", "sup": "F", "unit": "(MN·s)"}],
    "stamp": [{"code": "JG12.247-29c"}]
  },
  "layer": [
    {
      "data": {"name": "cwall2"},
      "mark": {"type": "point", "filled": true, "opacity": 1, "size": 40, "strokeWidth": 0},
      "encoding": {
        "x": {"field": "pulse", "type": "quantitative",
          "scale": {"domain": [30000, 90000], "nice": false, "zero": false},
          "axis": {"title": "JET Pulse Number", "titleFontSize": 21, "titlePadding": 2, "values": [30000, 40000, 50000, 60000, 70000, 80000, 90000], "format": "d", "labelFontSize": 21, "tickSize": -11, "labelPadding": 15, "labelFlush": false}},
        "y": {"field": "imp", "type": "quantitative",
          "scale": {"domain": [0, 0.16], "nice": false},
          "axis": {"title": null, "values": [0, 0.02, 0.04, 0.06, 0.08, 0.1, 0.12, 0.14, 0.16], "labelFontSize": 21, "labelPadding": 15, "labelFlush": false,
            "labelExpr": "round(datum.value*100) % 4 == 0 ? (datum.value == 0 ? '0' : format(datum.value, '.2f')) : ''",
            "labelBaseline": {"condition": {"test": "datum.value == 0", "value": "alphabetic"}, "value": "middle"},
            "tickSize": {"condition": {"test": "round(datum.value*100) % 4 != 0", "value": -6}, "value": -12}}},
        "color": {"datum": "C-wall, 2 octant data, 1399/3490 shots", "type": "nominal",
          "scale": {"domain": ["C-wall, 2 octant data, 1399/3490 shots", "C-wall, 4 octant data, 372/951 shots", "IL-wall, 2 octant data, 23/64 shots", "IL-wall, 4 octant data, 209/349 shots"], "range": ["#16165f", "#4b4fa3", "#5e0c0c", "#d80000"]},
          "legend": {"title": null, "orient": "none", "legendX": 140, "legendY": 1, "labelFontSize": 21, "labelLimit": 0, "labelOffset": 8, "rowPadding": 1, "symbolSize": 30, "symbolStrokeWidth": 0, "padding": 0,
            "encode": {"symbols": {"update": {"size": {"signal": "indexof(['IL-wall, 2 octant data, 23/64 shots', 'IL-wall, 4 octant data, 209/349 shots'], datum.value) >= 0 ? 60 : 22"}}}}}},
        "shape": {"datum": "C-wall, 2 octant data, 1399/3490 shots", "type": "nominal",
          "scale": {"domain": ["C-wall, 2 octant data, 1399/3490 shots", "C-wall, 4 octant data, 372/951 shots", "IL-wall, 2 octant data, 23/64 shots", "IL-wall, 4 octant data, 209/349 shots"], "range": ["diamond", "diamond", "circle", "circle"]},
          "legend": {"title": null}}
      }
    },
    {
      "data": {"name": "cwall4"},
      "mark": {"type": "point", "filled": true, "opacity": 1, "size": 40, "strokeWidth": 0},
      "encoding": {
        "x": {"field": "pulse", "type": "quantitative"},
        "y": {"field": "imp", "type": "quantitative"},
        "color": {"datum": "C-wall, 4 octant data, 372/951 shots", "type": "nominal"},
        "shape": {"datum": "C-wall, 4 octant data, 372/951 shots", "type": "nominal"}
      }
    },
    {
      "data": {"name": "ilwall2"},
      "mark": {"type": "point", "filled": true, "opacity": 1, "size": 64, "strokeWidth": 0},
      "encoding": {
        "x": {"field": "pulse", "type": "quantitative"},
        "y": {"field": "imp", "type": "quantitative"},
        "color": {"datum": "IL-wall, 2 octant data, 23/64 shots", "type": "nominal"},
        "shape": {"datum": "IL-wall, 2 octant data, 23/64 shots", "type": "nominal"}
      }
    },
    {
      "data": {"name": "ilwall4"},
      "mark": {"type": "point", "filled": true, "opacity": 1, "size": 64, "strokeWidth": 0},
      "encoding": {
        "x": {"field": "pulse", "type": "quantitative"},
        "y": {"field": "imp", "type": "quantitative"},
        "color": {"datum": "IL-wall, 4 octant data, 209/349 shots", "type": "nominal"},
        "shape": {"datum": "IL-wall, 4 octant data, 209/349 shots", "type": "nominal"}
      }
    },
    {
      "data": {"name": "pointer"},
      "mark": {"type": "rule", "color": "#2380c2", "strokeWidth": 1.5},
      "encoding": {
        "x": {"field": "pulse", "type": "quantitative"},
        "x2": {"datum": 38800},
        "y": {"datum": 0.1425, "type": "quantitative"},
        "y2": {"datum": 0.1813}
      }
    },
    {
      "data": {"name": "pointer"},
      "mark": {"type": "point", "shape": "triangle-down", "filled": true, "size": 150, "color": "#2380c2", "opacity": 1, "strokeWidth": 0},
      "encoding": {
        "x": {"field": "pulse", "type": "quantitative"},
        "y": {"datum": 0.1398, "type": "quantitative"}
      }
    },
    {
      "data": {"name": "pointer"},
      "mark": {"type": "text", "font": "DejaVu Sans", "fontSize": 42, "color": "#222", "align": "center", "baseline": "alphabetic", "dx": 70},
      "encoding": {
        "x": {"field": "pulse", "type": "quantitative"},
        "y": {"datum": 0.1846, "type": "quantitative"},
        "text": {"field": "label"}
      }
    },
    {
      "data": {"name": "ytitle"},
      "mark": {"type": "text", "font": "Liberation Sans", "fontSize": 21, "color": "#111", "angle": 270, "align": "left", "baseline": "middle"},
      "encoding": {
        "x": {"datum": 22670, "type": "quantitative"},
        "y": {"datum": 0.0572, "type": "quantitative"},
        "text": {"field": "part"}
      }
    },
    {
      "data": {"name": "ytitle"},
      "mark": {"type": "text", "font": "Liberation Sans", "fontSize": 14, "color": "#111", "angle": 270, "align": "left", "baseline": "middle", "dx": 36, "dy": -7},
      "encoding": {
        "x": {"datum": 22670, "type": "quantitative"},
        "y": {"datum": 0.0572, "type": "quantitative"},
        "text": {"field": "sup"}
      }
    },
    {
      "data": {"name": "ytitle"},
      "mark": {"type": "text", "font": "Liberation Sans", "fontSize": 21, "color": "#111", "angle": 270, "align": "left", "baseline": "middle", "dx": 51},
      "encoding": {
        "x": {"datum": 22670, "type": "quantitative"},
        "y": {"datum": 0.0572, "type": "quantitative"},
        "text": {"field": "unit"}
      }
    },
    {
      "data": {"name": "stamp"},
      "mark": {"type": "text", "font": "Liberation Sans", "fontSize": 12, "color": "#222", "angle": 270, "align": "left", "baseline": "middle"},
      "encoding": {
        "x": {"datum": 90680, "type": "quantitative"},
        "y": {"datum": 0, "type": "quantitative"},
        "text": {"field": "code"}
      }
    }
  ]
}
